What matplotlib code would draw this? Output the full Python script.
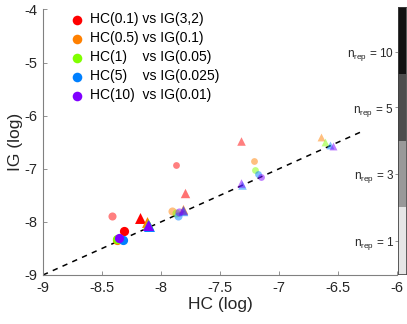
import matplotlib
matplotlib.use("Agg")
import matplotlib.pyplot as plt
import numpy as np
from matplotlib.colors import ListedColormap

plt.rcParams['font.family'] = ['Liberation Sans', 'DejaVu Sans']

# ---------------- data ----------------
labels = ["HC(0.1) vs IG(3,2)", "HC(0.5) vs IG(0.1)", "HC(1)    vs IG(0.05)",
          "HC(5)    vs IG(0.025)", "HC(10)  vs IG(0.01)"]
colors = ["#ff0000", "#ff8000", "#80ff00", "#0080ff", "#8000ff"]

# circles / triangles: (HC, IG) in log
red_circ_hc = [-8.316, -8.415, -7.873]
red_circ_ig = [-8.167, -7.885, -6.930]
red_tri_hc = [-8.18, -7.80, -7.32]
red_tri_ig = [-7.93, -7.46, -6.48]

orange_circ_hc = [-8.37, -7.91, -7.21]
orange_circ_ig = [-8.34, -7.80, -6.86]
orange_tri_hc = [-8.12, -7.81, -6.64]
orange_tri_ig = [-8.01, -7.76, -6.41]

green_circ_hc = [-8.37, -7.87, -7.20]
green_circ_ig = [-8.33, -7.83, -7.02]
green_tri_hc = [-8.11, -7.81, -6.61]
green_tri_ig = [-8.04, -7.77, -6.49]

blue_circ_hc = [-8.32, -7.86, -7.18]
blue_circ_ig = [-8.34, -7.885, -7.10]
blue_tri_hc = [-8.10, -7.81, -7.31, -6.57]
blue_tri_ig = [-8.08, -7.79, -7.30, -6.55]

purple_circ_hc = [-8.36, -7.85, -7.15]
purple_circ_ig = [-8.31, -7.81, -7.15]
purple_tri_hc = [-8.11, -7.81, -7.32, -6.54]
purple_tri_ig = [-8.06, -7.77, -7.27, -6.58]

circ_hc = [red_circ_hc, orange_circ_hc, green_circ_hc, blue_circ_hc, purple_circ_hc]
circ_ig = [red_circ_ig, orange_circ_ig, green_circ_ig, blue_circ_ig, purple_circ_ig]
tri_hc = [red_tri_hc, orange_tri_hc, green_tri_hc, blue_tri_hc, purple_tri_hc]
tri_ig = [red_tri_ig, orange_tri_ig, green_tri_ig, blue_tri_ig, purple_tri_ig]

# identity line range
line_x = [-9, -6.3]

# colorbar
nrep_labels = ["1", "3", "5", "10"]
nrep_grays = ["#e6e6e6", "#999999", "#4d4d4d", "#121212"]

# ---------------- style (per point order) ----------------
circ_sizes = [44, 34, 24]
circ_alpha = [1.0, 0.5, 0.5]
tri_sizes = [62, 46, 38, 32]
tri_alpha = [1.0, 0.55, 0.5, 0.5]

fig = plt.figure(figsize=(4.07, 3.24), dpi=100)
ax = fig.add_axes([43/407, 49/324, 354/407, 265.5/324])

ax.plot(line_x, line_x, linestyle=(0, (3.5, 3.5)), color='black', lw=1.1, zorder=1)

for i in range(len(labels)):
    ch, ci = circ_hc[i], circ_ig[i]
    for j in range(len(ch)):
        ax.scatter(ch[j], ci[j], s=circ_sizes[j], color=colors[i],
                   alpha=circ_alpha[j], linewidths=0, marker='o', zorder=2)
    th, ti = tri_hc[i], tri_ig[i]
    n = len(th)
    for j in range(n):
        k = j if n == 4 else [0, 1, 3][j]
        if i == 0 and j == 2:
            k = 2
        ax.scatter(th[j], ti[j], s=tri_sizes[k], color=colors[i],
                   alpha=tri_alpha[k], linewidths=0, marker='^', zorder=2)

# legend handles
handles = [ax.scatter([], [], s=48, color=c, linewidths=0, marker='o') for c in colors]
ax.legend(handles, labels, loc='upper left', bbox_to_anchor=(0.078, 0.99),
          frameon=False, fontsize=10, handlelength=0.9, handletextpad=0.5,
          labelspacing=0.36, borderpad=0, borderaxespad=0, scatterpoints=1)

ax.set_xlim(-9, -6)
ax.set_ylim(-9, -4)
ax.set_xticks([-9, -8.5, -8, -7.5, -7, -6.5, -6])
ax.set_xticklabels(["-9", "-8.5", "-8", "-7.5", "-7", "-6.5", "-6"])
ax.set_yticks([-9, -8, -7, -6, -5, -4])
ax.set_yticklabels(["-9", "-8", "-7", "-6", "-5", "-4"])
for s in ['top', 'right']:
    ax.spines[s].set_visible(False)
for s in ['left', 'bottom']:
    ax.spines[s].set_color('#808080')
    ax.spines[s].set_linewidth(0.8)
ax.tick_params(direction='in', length=3, width=0.6, color='#808080',
               labelsize=10.5, labelcolor='#262626', pad=4)
ax.set_xlabel("HC (log)", fontsize=12.5, color='#262626', labelpad=2)
ax.set_ylabel("IG (log)", fontsize=12.5, color='#262626', labelpad=1)

# colorbar
cax = fig.add_axes([398/407, 50/324, 8/407, 267/324])
vals = np.arange(len(nrep_labels)).reshape(-1, 1)
cax.pcolormesh([0, 1], np.arange(len(nrep_labels) + 1), vals,
               cmap=ListedColormap(nrep_grays), vmin=-0.5, vmax=len(nrep_labels) - 0.5)
cax.set_xlim(0, 1)
cax.set_ylim(0, len(nrep_labels))
cax.set_xticks([])
cax.set_yticks([0.5, 1.5, 2.5, 3.33])
cax.set_yticklabels([r"n$_{\mathregular{rep}}$ = " + l for l in nrep_labels])
cax.tick_params(axis='y', direction='out', length=2, width=0.6, color='#808080',
                labelsize=8.5, labelcolor='#262626', pad=1)
for s in cax.spines.values():
    s.set_color('#404040')
    s.set_linewidth(0.6)

fig.savefig("out.png", dpi=100)
